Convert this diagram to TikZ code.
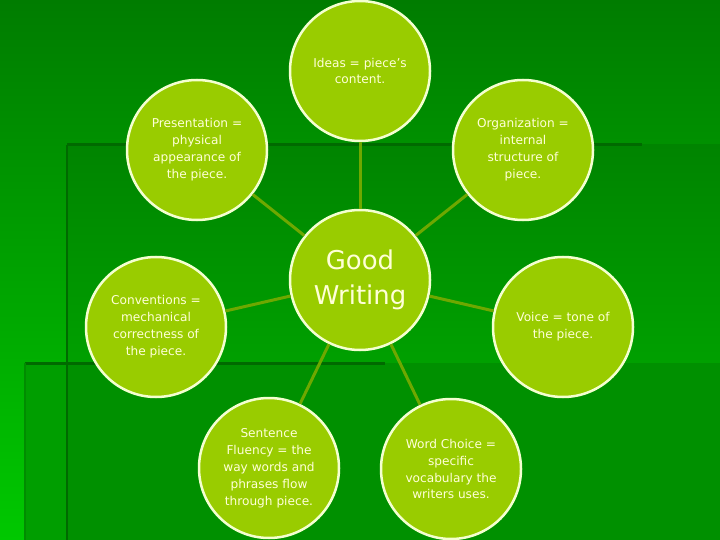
\documentclass[tikz,border=0pt]{standalone}
\usepackage{fontspec}
\setmainfont{DejaVu Sans}
\definecolor{leaf}{HTML}{99CC00}
\definecolor{rimcol}{HTML}{F4FFD0}
\definecolor{pale}{HTML}{FFFFD8}
\definecolor{stem}{HTML}{6EA800}
\definecolor{bandline}{HTML}{006A00}
\definecolor{slidetop}{HTML}{007C00}
\definecolor{slidebot}{HTML}{00C800}
\definecolor{bandtop}{HTML}{008400}
\definecolor{bandbot}{HTML}{00A000}
\definecolor{footleft}{HTML}{009E00}
\definecolor{footmain}{HTML}{009000}
\definecolor{footedge}{HTML}{008C00}
\begin{document}
\begin{tikzpicture}[x=1bp, y=-1bp,
      topic/.style = {
        circle, draw=rimcol, line width=2.5bp, fill=leaf, minimum size=140bp,
        inner sep=0pt, align=center, text=pale,
        font=\fontsize{12.2}{17}\selectfont },
      core/.style = { topic, font=\fontsize{26}{35}\selectfont },
      line/.style = { draw=stem, line width=3bp }]
    \useasboundingbox (0,0) rectangle (720,540);
    % slide background
    \shade[top color=slidetop, bottom color=slidebot] (0,0) rectangle (720,540);
    \shade[top color=bandtop, bottom color=bandbot] (67,145) rectangle (720,363);
    \fill[footleft] (25,363) rectangle (67,540);
    \fill[footmain] (67,363) rectangle (720,540);
    \draw[bandline, line width=3bp] (67,145) -- (642,145);
    \draw[bandline, line width=3bp] (25,363) -- (385,363);
    \draw[bandline, line width=2bp] (67,145) -- (67,540);
    \draw[footedge, line width=2bp] (25,363) -- (25,540);
    % circles
    \node [core] (good) at (360,280) {Good\\Writing};
    \node [topic] (ideas) at (360,71) {Ideas = piece’s\\content.};
    \node [topic] (organization) at (523,150) {Organization =\\internal\\structure of\\piece.};
    \node [topic] (voice) at (563,327) {Voice = tone of\\the piece.};
    \node [topic] (wordchoice) at (451,469) {Word Choice =\\specific\\vocabulary the\\writers uses.};
    \node [topic] (fluency) at (269,468) {Sentence\\Fluency = the\\way words and\\phrases flow\\through piece.};
    \node [topic] (conventions) at (156,327) {Conventions =\\mechanical\\correctness of\\the piece.};
    \node [topic] (presentation) at (197,150) {Presentation =\\physical\\appearance of\\the piece.};
    % spokes
    \draw[line] (good) -- (ideas);
    \draw[line] (good) -- (organization);
    \draw[line] (good) -- (voice);
    \draw[line] (good) -- (wordchoice);
    \draw[line] (good) -- (fluency);
    \draw[line] (good) -- (conventions);
    \draw[line] (good) -- (presentation);
  \end{tikzpicture}
\end{document}
